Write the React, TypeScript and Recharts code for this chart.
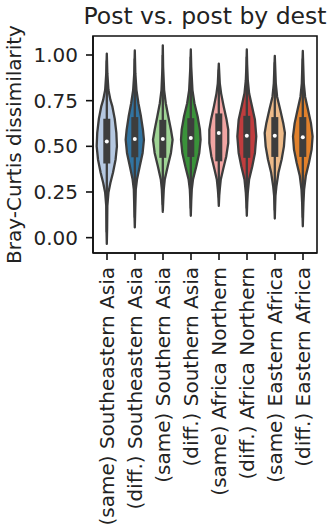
import React from "react";
import { Bar, ComposedChart, ReferenceArea, XAxis, YAxis } from "recharts";

const groups = [
  "(same) Southeastern Asia",
  "(diff.) Southeastern Asia",
  "(same) Southern Asia",
  "(diff.) Southern Asia",
  "(same) Africa Northern",
  "(diff.) Africa Northern",
  "(same) Eastern Africa",
  "(diff.) Eastern Africa",
];

// seaborn tab20 pairs, desaturated
const colors = ["#b5c8e1", "#3274a1", "#9fd495", "#3a923a", "#f2a5a3", "#c03d3e", "#eebb89", "#e1812c"];

const q1 = [0.406, 0.44, 0.437, 0.442, 0.418, 0.437, 0.442, 0.442];
const medians = [0.527, 0.54, 0.54, 0.546, 0.573, 0.558, 0.558, 0.55];
const q3 = [0.651, 0.66, 0.645, 0.654, 0.68, 0.667, 0.66, 0.66];
const whiskerLow = [0.03, 0.11, 0.18, 0.16, 0.22, 0.16, 0.15, 0.11];
const whiskerHigh = [0.97, 0.98, 1.0, 0.99, 0.92, 0.99, 0.96, 0.98];

// violin outlines: [value, half-width as share of the slot]
const outlines: number[][][] = [
  [[-0.034, 0], [0.05, 0.03], [0.174, 0.05], [0.247, 0.15], [0.301, 0.33], [0.355, 0.56], [0.428, 0.8], [0.5, 0.92], [0.573, 0.87], [0.651, 0.72], [0.717, 0.51], [0.754, 0.33], [0.808, 0.15], [0.899, 0.05], [1.008, 0]],
  [[0.056, 0], [0.15, 0.04], [0.265, 0.09], [0.319, 0.2], [0.391, 0.45], [0.464, 0.71], [0.536, 0.83], [0.591, 0.74], [0.663, 0.56], [0.736, 0.33], [0.808, 0.15], [0.899, 0.05], [1.025, 0]],
  [[0.141, 0], [0.2, 0.04], [0.265, 0.09], [0.319, 0.18], [0.391, 0.45], [0.464, 0.74], [0.536, 0.89], [0.591, 0.74], [0.663, 0.5], [0.736, 0.27], [0.808, 0.12], [0.935, 0.03], [1.053, 0]],
  [[0.12, 0], [0.2, 0.04], [0.265, 0.09], [0.319, 0.2], [0.391, 0.5], [0.464, 0.77], [0.536, 0.89], [0.591, 0.83], [0.663, 0.62], [0.736, 0.33], [0.808, 0.15], [0.935, 0.04], [1.03, 0]],
  [[0.174, 0], [0.228, 0.04], [0.265, 0.09], [0.319, 0.18], [0.373, 0.39], [0.446, 0.68], [0.518, 0.86], [0.591, 0.86], [0.645, 0.71], [0.717, 0.45], [0.79, 0.21], [0.845, 0.09], [0.953, 0]],
  [[0.12, 0], [0.19, 0.04], [0.247, 0.09], [0.319, 0.21], [0.391, 0.5], [0.464, 0.74], [0.554, 0.86], [0.645, 0.74], [0.717, 0.48], [0.79, 0.21], [0.862, 0.09], [0.95, 0.03], [1.03, 0]],
  [[0.105, 0], [0.17, 0.03], [0.228, 0.06], [0.283, 0.15], [0.355, 0.33], [0.428, 0.62], [0.5, 0.83], [0.573, 0.92], [0.627, 0.77], [0.699, 0.5], [0.772, 0.21], [0.845, 0.09], [0.995, 0]],
  [[0.062, 0], [0.13, 0.03], [0.192, 0.06], [0.265, 0.12], [0.337, 0.27], [0.41, 0.56], [0.482, 0.8], [0.554, 0.89], [0.627, 0.74], [0.699, 0.48], [0.772, 0.21], [0.845, 0.09], [1.022, 0]],
];

const yTicks = [0, 0.25, 0.5, 0.75, 1.0];
const yDomain = [-0.084, 1.104];

const data = groups.map((name, i) => {
  const o = outlines[i];
  return { name, i, extent: [o[0][0], o[o.length - 1][0]] };
});

const FONT = "DejaVu Sans";
const EDGE = "#3d3d3d";
const INK = "#222";

function Violin(props: any) {
  const { x, y, width, height, payload } = props;
  const i = payload.i;
  const [lo, hi] = payload.extent;
  const top = Math.min(y, y + height);
  const h = Math.abs(height);
  const py = (v: number) => top + ((hi - v) / (hi - lo)) * h;
  const cx = x + width / 2;
  const half = width / 2;
  const o = outlines[i];
  const right = o.map(([v, w]) => `${cx + w * half},${py(v)}`);
  const left = [...o].reverse().map(([v, w]) => `${cx - w * half},${py(v)}`);
  const d = `M${right.join("L")}L${left.join("L")}Z`;
  return (
    <g>
      <path d={d} fill={colors[i]} stroke={EDGE} strokeWidth={2.3} strokeLinejoin="round" />
      <line x1={cx} x2={cx} y1={py(whiskerLow[i])} y2={py(whiskerHigh[i])} stroke={EDGE} strokeWidth={2.3} />
      <line x1={cx} x2={cx} y1={py(q1[i])} y2={py(q3[i])} stroke={EDGE} strokeWidth={7} />
      <circle cx={cx} cy={py(medians[i])} r={2} fill="#fff" />
    </g>
  );
}

function XTick(props: any) {
  const { x, y, payload } = props;
  return (
    <text
      x={x}
      y={y}
      transform={`rotate(-90, ${x}, ${y})`}
      textAnchor="end"
      dy="0.35em"
      fontFamily={FONT}
      fontSize={20}
      fill={INK}
    >
      {payload.value}
    </text>
  );
}

function Title(props: any) {
  const vb = props.viewBox;
  return (
    <text x={vb.x + vb.width / 2} y={24} textAnchor="middle" fontFamily={FONT} fontSize={23.5} fill={INK}>
      Post vs. post by dest
    </text>
  );
}

function YLabel(props: any) {
  const vb = props.viewBox;
  const cy = vb.y + vb.height / 2;
  return (
    <text
      x={20.6}
      y={cy}
      transform={`rotate(-90, 20.6, ${cy})`}
      textAnchor="middle"
      fontFamily={FONT}
      fontSize={20}
      fill={INK}
    >
      Bray-Curtis dissimilarity
    </text>
  );
}

export default function App() {
  const axisLine = { stroke: "#111", strokeWidth: 1.6 };
  return (
    <div style={{ position: "absolute", left: 0, top: 0, width: 331, height: 531, background: "#fff" }}>
      <ComposedChart
        width={331}
        height={531}
        data={data}
        margin={{ top: 36, right: 14, bottom: 8, left: 0 }}
        barCategoryGap="10%"
      >
        <XAxis
          dataKey="name"
          interval={0}
          height={270}
          tick={<XTick />}
          tickSize={7}
          tickMargin={7}
          tickLine={{ stroke: "#111", strokeWidth: 1.6 }}
          axisLine={axisLine}
        />
        <YAxis
          type="number"
          domain={yDomain}
          ticks={yTicks}
          width={93}
          tickFormatter={(v: number) => v.toFixed(2)}
          tick={{ fontFamily: FONT, fontSize: 20, fill: INK }}
          tickSize={7}
          tickMargin={8}
          tickLine={{ stroke: "#111", strokeWidth: 1.6 }}
          axisLine={axisLine}
          allowDataOverflow
          label={<YLabel />}
        />
        <Bar dataKey="extent" shape={<Violin />} isAnimationActive={false} />
        <ReferenceArea
          y1={yDomain[0]}
          y2={yDomain[1]}
          fill="none"
          fillOpacity={0}
          stroke="#111"
          strokeWidth={1.6}
          ifOverflow="extendDomain"
          label={<Title />}
        />
      </ComposedChart>
    </div>
  );
}
